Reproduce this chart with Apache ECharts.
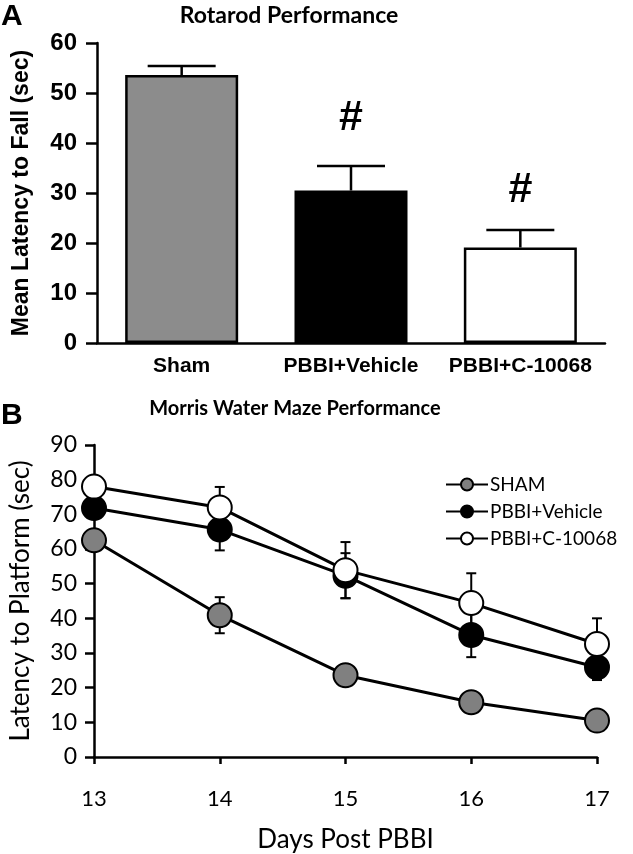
<!DOCTYPE html>
<html>
<head>
<meta charset="utf-8">
<script src="https://cdn.jsdelivr.net/npm/echarts@6/dist/echarts.min.js"></script>
<style>
html,body{margin:0;padding:0;background:#fff;}
#chart{width:633px;height:854px;}
</style>
</head>
<body>
<div id="chart"></div>
<script>
// ---- Panel A: Rotarod ----
const rotarodCategories = ['Sham', 'PBBI+Vehicle', 'PBBI+C-10068'];
const rotarodMeans = [53.6, 30.5, 19.1];
const rotarodErrors = [1.8, 4.9, 3.5];
const rotarodSigMarkY = [null, 45, 30.6];
const rotarodColors = ['#8c8c8c', '#000000', '#ffffff'];

// ---- Panel B: Morris water maze ----
const mazeDays = [13, 14, 15, 16, 17];
const shamLatency = [62.5, 40.9, 23.6, 15.8, 10.5];
const shamErr = [2, 5.2, 2, 2, 2];
const vehicleLatency = [71.8, 65.6, 52.3, 35.2, 25.9];
const vehicleErr = [3, 6, 6.5, 6.4, 3.7];
const c10068Latency = [78.0, 72.0, 53.9, 44.4, 32.6];
const c10068Err = [3, 5.9, 8.1, 8.6, 7.4];

const chart = echarts.init(document.getElementById('chart'));
const AF = 'Liberation Sans';
const BF = 'Lato';

function pairs(xs, ys) { return xs.map((x, i) => [x, ys[i]]); }

const mazeGroups = [
  { name: 'SHAM', values: shamLatency, errs: shamErr, fill: '#808080' },
  { name: 'PBBI+Vehicle', values: vehicleLatency, errs: vehicleErr, fill: '#000000' },
  { name: 'PBBI+C-10068', values: c10068Latency, errs: c10068Err, fill: '#ffffff' }
];

const series = [];

// bars
series.push({
  type: 'bar', name: 'Rotarod', xAxisIndex: 0, yAxisIndex: 0,
  barWidth: 113,
  data: rotarodMeans.map((v, i) => ({
    value: v,
    itemStyle: { color: rotarodColors[i], borderColor: '#000', borderWidth: 2.5 }
  })),
  z: 2, silent: true
});
// bar error bars (upper only)
series.push({
  type: 'custom', name: 'RotarodErr', xAxisIndex: 0, yAxisIndex: 0,
  data: rotarodMeans.map((v, i) => [i, v, v + rotarodErrors[i]]),
  renderItem: function (params, api) {
    const base = api.coord([api.value(0), api.value(1)]);
    const top = api.coord([api.value(0), api.value(2)]);
    const half = 34;
    return {
      type: 'group',
      children: [
        { type: 'line', shape: { x1: base[0], y1: base[1], x2: top[0], y2: top[1] }, style: { stroke: '#000', lineWidth: 2.5 } },
        { type: 'line', shape: { x1: top[0] - half, y1: top[1], x2: top[0] + half, y2: top[1] }, style: { stroke: '#000', lineWidth: 2.5 } }
      ]
    };
  },
  z: 1, silent: true
});
// significance marks
series.push({
  type: 'custom', name: 'Sig', xAxisIndex: 0, yAxisIndex: 0,
  data: rotarodSigMarkY.map((y, i) => [i, y]).filter(d => d[1] !== null),
  renderItem: function (params, api) {
    const p = api.coord([api.value(0), api.value(1)]);
    return {
      type: 'text',
      style: { x: p[0], y: p[1], text: '#', align: 'center', verticalAlign: 'middle',
        fill: '#000', font: 'bold 43px "' + AF + '"' }
    };
  },
  silent: true
});

// maze error bars
series.push({
  type: 'custom', name: 'MazeErr', xAxisIndex: 1, yAxisIndex: 1,
  data: mazeGroups.flatMap(g => g.values.map((v, i) => [mazeDays[i], v, g.errs[i]])),
  renderItem: function (params, api) {
    const x = api.value(0), v = api.value(1), e = api.value(2);
    const hi = api.coord([x, v + e]);
    const lo = api.coord([x, v - e]);
    const half = 5;
    const st = { stroke: '#000', lineWidth: 2 };
    return {
      type: 'group',
      children: [
        { type: 'line', shape: { x1: hi[0], y1: hi[1], x2: lo[0], y2: lo[1] }, style: st },
        { type: 'line', shape: { x1: hi[0] - half, y1: hi[1], x2: hi[0] + half, y2: hi[1] }, style: st },
        { type: 'line', shape: { x1: lo[0] - half, y1: lo[1], x2: lo[0] + half, y2: lo[1] }, style: st }
      ]
    };
  },
  z: 1, silent: true
});

mazeGroups.forEach((g, k) => {
  series.push({
    type: 'line', name: g.name, xAxisIndex: 1, yAxisIndex: 1,
    data: pairs(mazeDays, g.values),
    symbol: 'circle', symbolSize: 24,
    lineStyle: { color: '#000', width: 3 },
    itemStyle: { color: g.fill, borderColor: '#000', borderWidth: 2 },
    z: 3 + k, silent: true, animation: false
  });
});

const option = {
  animation: false,
  backgroundColor: '#fff',
  title: [
    { text: 'A', left: 1, top: 2, textStyle: { fontFamily: AF, fontWeight: 'bold', fontSize: 30, color: '#000' }, padding: 0 },
    { text: 'Rotarod Performance', left: 289, top: 4, textAlign: 'center', padding: 0,
      textStyle: { fontFamily: BF, fontWeight: 'bold', fontSize: 23, color: '#000' } },
    { text: 'B', left: 1, top: 401, textStyle: { fontFamily: AF, fontWeight: 'bold', fontSize: 30, color: '#000' }, padding: 0 },
    { text: 'Morris Water Maze Performance', left: 295, top: 399, textAlign: 'center', padding: 0,
      textStyle: { fontFamily: BF, fontWeight: 'bold', fontSize: 20, color: '#000' } }
  ],
  legend: {
    data: mazeGroups.map(g => g.name),
    orient: 'vertical', left: 440, top: 470,
    itemWidth: 42, itemHeight: 15, itemGap: 8,
    textStyle: { fontFamily: BF, fontSize: 19, color: '#000', padding: [0, 0, 0, -3] }
  },
  grid: [
    { left: 97, top: 43, width: 508, height: 300 },
    { left: 89, top: 445, width: 508, height: 316 }
  ],
  xAxis: [
    {
      type: 'category', gridIndex: 0, data: rotarodCategories,
      axisLine: { lineStyle: { color: '#000', width: 2.5 } },
      axisTick: { alignWithLabel: true, length: 9, lineStyle: { color: '#000', width: 2.5 } },
      axisLabel: { interval: 0, hideOverlap: false, margin: 13, color: '#000', fontFamily: AF, fontWeight: 'bold', fontSize: 21 }
    },
    {
      type: 'value', gridIndex: 1, min: 13, max: 17, interval: 1,
      axisLine: { lineStyle: { color: '#000', width: 2.5 } },
      axisTick: { length: 7, lineStyle: { color: '#000', width: 2.5 } },
      axisLabel: { margin: 31, color: '#000', fontFamily: BF, fontSize: 22 },
      splitLine: { show: false },
      name: 'Days Post PBBI', nameLocation: 'middle', nameGap: 70,
      nameTextStyle: { fontFamily: BF, fontSize: 26, color: '#000' }
    }
  ],
  yAxis: [
    {
      type: 'value', gridIndex: 0, min: 0, max: 60, interval: 10,
      axisLine: { show: true, lineStyle: { color: '#000', width: 2.5 } },
      axisTick: { show: true, length: 11, lineStyle: { color: '#000', width: 2.5 } },
      axisLabel: { margin: 20, color: '#000', fontFamily: AF, fontWeight: 'bold', fontSize: 24 },
      splitLine: { show: false },
      name: 'Mean Latency to Fall (sec)', nameLocation: 'middle', nameGap: 64,
      nameTextStyle: { fontFamily: AF, fontWeight: 'bold', fontSize: 23, color: '#000' }
    },
    {
      type: 'value', gridIndex: 1, min: 0, max: 90, interval: 10,
      axisLine: { show: true, lineStyle: { color: '#000', width: 2.5 } },
      axisTick: { show: true, length: 9, lineStyle: { color: '#000', width: 2.5 } },
      axisLabel: { margin: 17, color: '#000', fontFamily: BF, fontSize: 23 },
      splitLine: { show: false },
      name: 'Latency to Platform (sec)', nameLocation: 'middle', nameGap: 60,
      nameTextStyle: { fontFamily: BF, fontSize: 26, color: '#000' }
    }
  ],
  series: series
};
chart.setOption(option);
</script>
</body>
</html>
